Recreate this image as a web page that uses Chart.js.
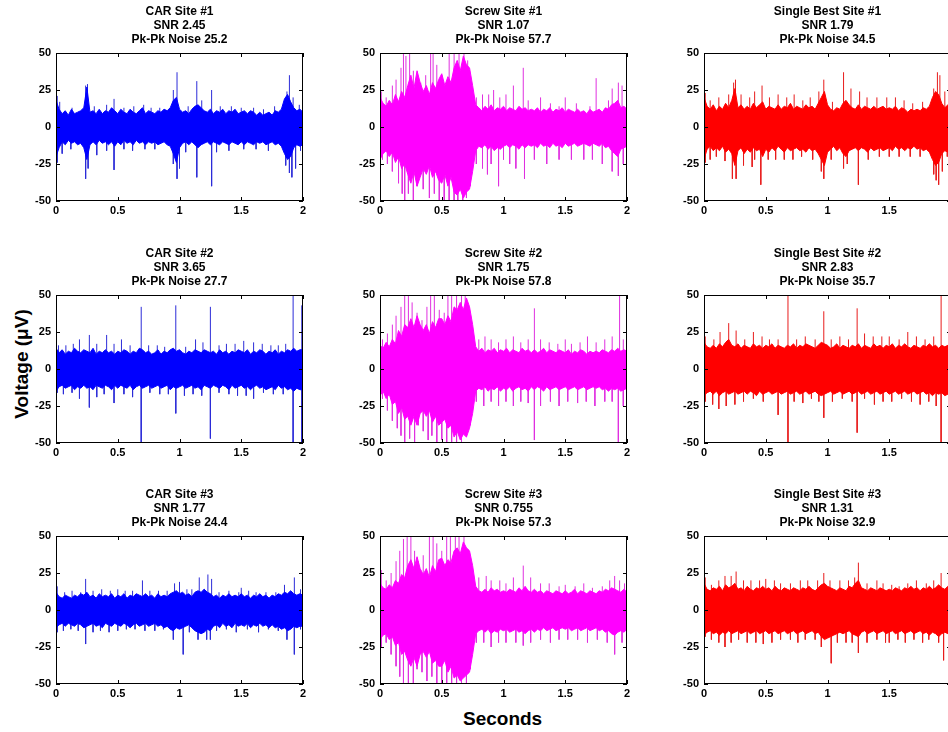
<!DOCTYPE html>
<html>
<head>
<meta charset="utf-8">
<script src="https://cdn.jsdelivr.net/npm/chart.js@4.4.1/dist/chart.umd.min.js"></script>
<style>
body { margin: 0; background: #fff; width: 948px; height: 732px; overflow: hidden; position: relative; font-family: "Liberation Sans", Arial, sans-serif; }
canvas.panel { position: absolute; }
.axlabel { position: absolute; font-weight: bold; font-size: 19px; color: #000; white-space: nowrap; }
</style>
</head>
<body>
<div class="axlabel" id="xlab" style="left:463px; top:708px;">Seconds</div>
<div class="axlabel" id="ylab" style="left:22px; top:364px; transform: translate(-50%,-50%) rotate(-90deg);">Voltage (μV)</div>
<script>
// sample times of the band readings (s), every 0.025 s
const times = [0,0.025,0.05,0.075,0.1,0.125,0.15,0.175,0.2,0.225,
    0.25,0.275,0.3,0.325,0.35,0.375,0.4,0.425,0.45,0.475,
    0.5,0.525,0.55,0.575,0.6,0.625,0.65,0.675,0.7,0.725,
    0.75,0.775,0.8,0.825,0.85,0.875,0.9,0.925,0.95,0.975,
    1,1.025,1.05,1.075,1.1,1.125,1.15,1.175,1.2,1.225,
    1.25,1.275,1.3,1.325,1.35,1.375,1.4,1.425,1.45,1.475,
    1.5,1.525,1.55,1.575,1.6,1.625,1.65,1.675,1.7,1.725,
    1.75,1.775,1.8,1.825,1.85,1.875,1.9,1.925,1.95,1.975,
    2];
const xTicks = [0, 0.5, 1, 1.5, 2];
const yTicks = [-50, -25, 0, 25, 50];

// dense band: upper / lower edge (µV) at each time above; single spikes [t, µV]
const car1Hi = [18,12,9,11,8,12,9,10,11,13, 27,10,11,9,12,9,11,10,13,11, 9,12,10,9,12,10,9,11,13,9,
    11,10,9,11,10,12,11,13,18,20, 12,10,11,9,12,14,15,13,11,10, 12,9,11,10,12,9,11,10,12,9,
    10,11,9,11,10,8,10,8,9,10, 8,11,10,12,19,22,17,13,11,12, 10];
const car1Lo = [-20,-14,-10,-12,-9,-11,-10,-12,-11,-14, -22,-12,-10,-12,-9,-11,-10,-12,-10,-13, -10,-12,-9,-11,-10,-12,-9,-11,-10,-12,
    -10,-11,-10,-12,-11,-10,-12,-13,-18,-24, -14,-11,-10,-12,-10,-12,-14,-12,-11,-10, -12,-10,-11,-12,-10,-11,-12,-10,-11,-12,
    -10,-12,-10,-11,-12,-10,-11,-10,-12,-11, -10,-12,-11,-13,-18,-22,-20,-14,-12,-13, -12];
const car1Spikes = [[0.01,21],[0.03,17],[0.13,13],[0.24,28],[0.255,29],[0.31,14],[0.41,15],[0.47,19],[0.55,13],[0.63,14],[0.71,15],[0.77,13],[0.84,13],[0.95,25],[0.98,37],[1.07,14],[1.14,31],[1.18,18],[1.26,25],[1.33,14],[1.42,14],[1.5,13],[1.6,13],[1.68,12],[1.77,14],[1.87,24],[1.89,35],[1.92,20],[1.97,15],
    [0.01,-24],[0.05,-18],[0.12,-15],[0.24,-35],[0.26,-28],[0.33,-19],[0.41,-16],[0.47,-29],[0.55,-15],[0.62,-16],[0.72,-15],[0.8,-15],[0.95,-25],[0.98,-35],[1.0,-28],[1.05,-17],[1.14,-34],[1.26,-40],[1.3,-17],[1.4,-16],[1.52,-15],[1.62,-15],[1.72,-16],[1.86,-26],[1.89,-31],[1.91,-34],[1.94,-28],[1.98,-16]];

const screw1Hi = [20,16,14,18,15,22,17,24,20,28, 35,26,38,30,24,28,22,30,26,32, 36,28,34,30,40,45,38,48,42,40,
    28,15,13,11,14,12,15,11,13,12, 14,11,13,12,11,14,12,13,11,12, 11,13,10,12,11,13,10,12,11,13,
    10,12,11,10,12,10,11,9,12,10, 11,12,10,13,12,15,16,18,13,14, 12];
const screw1Lo = [-22,-18,-16,-20,-17,-24,-20,-28,-25,-32, -38,-30,-40,-34,-28,-32,-26,-34,-30,-36, -38,-32,-40,-34,-44,-46,-42,-48,-44,-42,
    -30,-16,-13,-14,-12,-15,-13,-16,-14,-15, -13,-12,-14,-12,-13,-15,-12,-14,-12,-13, -12,-14,-11,-13,-12,-14,-11,-13,-12,-14,
    -11,-13,-12,-11,-13,-12,-11,-12,-13,-11, -12,-13,-11,-14,-13,-16,-18,-20,-15,-14, -13];
const screw1Spikes = [[0.01,24],[0.05,20],[0.1,28],[0.13,32],[0.17,40],[0.19,50],[0.21,48],[0.24,50],[0.27,38],[0.3,32],[0.33,30],[0.37,35],[0.41,50],[0.43,50],[0.46,42],[0.5,35],[0.56,50],[0.6,50],[0.64,50],[0.68,50],[0.71,45],[0.74,30],[0.78,20],[0.83,22],[0.88,22],[0.92,25],[0.97,20],[1.02,22],[1.08,28],[1.16,40],[1.2,18],[1.3,20],[1.38,16],[1.45,14],[1.5,20],[1.59,16],[1.7,14],[1.75,33],[1.85,18],[1.88,26],[1.93,30],[1.96,28],[2.0,18],
    [0.02,-22],[0.06,-25],[0.1,-30],[0.15,-38],[0.18,-45],[0.2,-50],[0.23,-45],[0.27,-50],[0.3,-40],[0.35,-42],[0.4,-48],[0.44,-45],[0.48,-50],[0.52,-50],[0.56,-50],[0.6,-50],[0.63,-50],[0.67,-50],[0.7,-48],[0.73,-40],[0.78,-25],[0.83,-28],[0.87,-32],[0.9,-25],[0.96,-40],[1.0,-22],[1.05,-25],[1.1,-28],[1.17,-35],[1.25,-22],[1.35,-25],[1.45,-22],[1.55,-22],[1.65,-22],[1.72,-22],[1.8,-25],[1.88,-30],[1.93,-33],[1.97,-25]];

const best1Hi = [20,14,12,15,11,14,12,16,13,18, 26,13,15,12,14,12,16,13,15,17, 12,14,13,12,15,12,14,13,16,12,
    14,13,12,15,13,14,12,16,20,24, 15,12,11,13,12,16,18,15,13,12, 15,12,14,13,12,14,12,13,14,12,
    13,12,14,11,13,12,10,12,11,12, 11,13,12,14,20,24,22,16,13,15, 14];
const best1Lo = [-22,-15,-13,-16,-14,-16,-13,-17,-15,-18, -26,-16,-14,-18,-15,-17,-14,-16,-15,-20, -15,-17,-14,-16,-13,-15,-17,-14,-16,-15,
    -14,-16,-15,-17,-14,-16,-15,-18,-22,-26, -17,-15,-13,-16,-14,-18,-20,-16,-15,-14, -16,-14,-15,-17,-14,-16,-15,-14,-16,-15,
    -14,-16,-13,-15,-14,-16,-14,-15,-13,-15, -14,-16,-15,-17,-22,-26,-24,-18,-16,-17, -15];
const best1Spikes = [[0.01,23],[0.05,18],[0.12,20],[0.2,22],[0.24,30],[0.255,32],[0.3,22],[0.37,20],[0.41,24],[0.47,28],[0.53,20],[0.6,22],[0.67,20],[0.73,22],[0.8,18],[0.86,20],[0.93,24],[0.97,32],[1.04,17],[1.13,37],[1.19,26],[1.26,24],[1.32,20],[1.4,20],[1.48,20],[1.55,20],[1.62,18],[1.69,16],[1.77,17],[1.86,26],[1.89,37],[1.91,35],[1.95,24],[1.99,20],
    [0.01,-24],[0.05,-22],[0.1,-20],[0.17,-23],[0.23,-35],[0.26,-35],[0.32,-26],[0.39,-27],[0.41,-22],[0.46,-39],[0.52,-22],[0.58,-22],[0.65,-22],[0.72,-22],[0.79,-20],[0.88,-22],[0.95,-30],[0.97,-35],[1.03,-22],[1.13,-28],[1.16,-25],[1.25,-39],[1.33,-22],[1.42,-20],[1.5,-20],[1.58,-20],[1.67,-20],[1.75,-20],[1.86,-32],[1.88,-36],[1.9,-39],[1.93,-30],[1.97,-20]];

const car2Hi = [14,11,13,10,12,11,14,12,11,13, 12,11,14,10,12,11,13,11,12,10, 12,11,13,12,10,12,11,14,13,11,
    12,10,11,13,10,12,11,13,14,12, 13,11,10,12,11,13,12,11,13,12, 11,12,10,13,11,12,10,12,11,13,
    12,11,13,10,12,11,13,12,10,12, 11,13,10,12,11,13,12,14,12,13, 13];
const car2Lo = [-15,-12,-11,-13,-12,-11,-14,-12,-13,-11, -13,-12,-14,-11,-12,-13,-11,-12,-14,-11, -13,-11,-12,-13,-11,-14,-12,-11,-13,-12,
    -11,-13,-12,-11,-13,-12,-11,-14,-12,-13, -12,-11,-13,-12,-11,-13,-12,-14,-11,-12, -13,-11,-12,-13,-11,-12,-14,-11,-13,-12,
    -11,-13,-12,-14,-12,-11,-13,-12,-14,-13, -12,-14,-11,-13,-12,-14,-13,-15,-13,-14, -14];
const car2Spikes = [[0.02,16],[0.08,16],[0.14,17],[0.19,20],[0.27,23],[0.33,17],[0.41,23],[0.47,17],[0.53,20],[0.6,16],[0.69,42],[0.75,16],[0.82,16],[0.88,15],[0.97,43],[1.05,15],[1.13,20],[1.19,18],[1.25,42],[1.32,16],[1.38,17],[1.45,17],[1.52,19],[1.6,18],[1.67,17],[1.74,16],[1.8,16],[1.86,17],[1.92,50],[1.99,43],
    [0.01,-16],[0.06,-17],[0.13,-16],[0.19,-20],[0.27,-26],[0.33,-19],[0.39,-17],[0.47,-23],[0.55,-17],[0.62,-19],[0.69,-50],[0.76,-16],[0.84,-17],[0.91,-17],[0.97,-30],[1.04,-18],[1.11,-17],[1.18,-18],[1.25,-47],[1.32,-16],[1.4,-17],[1.47,-18],[1.54,-18],[1.6,-20],[1.68,-16],[1.76,-17],[1.84,-17],[1.92,-50],[1.99,-50]];

const screw2Hi = [16,14,18,15,20,17,26,22,30,28, 34,28,36,30,26,30,24,32,28,34, 34,30,36,32,42,40,45,40,48,42,
    30,15,12,14,11,13,12,14,11,13, 12,14,11,13,12,11,14,12,13,11, 13,11,12,14,11,13,12,11,13,12,
    11,13,10,12,11,13,12,10,12,11, 12,11,13,12,11,13,12,14,12,13, 12];
const screw2Lo = [-18,-15,-20,-17,-24,-22,-30,-26,-34,-32, -38,-32,-38,-30,-28,-32,-28,-36,-32,-38, -36,-34,-40,-38,-46,-42,-48,-44,-46,-40,
    -30,-15,-13,-14,-12,-15,-13,-14,-12,-15, -13,-14,-12,-15,-13,-12,-14,-13,-15,-12, -14,-12,-13,-15,-12,-14,-13,-12,-14,-13,
    -12,-14,-13,-12,-14,-13,-12,-14,-13,-12, -13,-12,-14,-13,-15,-13,-14,-13,-15,-14, -13];
const screw2Spikes = [[0.02,20],[0.06,24],[0.1,30],[0.13,36],[0.17,42],[0.2,50],[0.23,50],[0.26,45],[0.3,38],[0.34,33],[0.38,42],[0.41,50],[0.44,50],[0.48,40],[0.52,38],[0.55,50],[0.58,50],[0.62,50],[0.66,50],[0.69,50],[0.72,38],[0.75,25],[0.8,20],[0.85,22],[0.9,20],[0.96,18],[1.02,20],[1.08,22],[1.14,18],[1.2,20],[1.25,41],[1.3,20],[1.37,18],[1.44,17],[1.5,20],[1.55,17],[1.62,18],[1.68,22],[1.75,18],[1.82,20],[1.88,22],[1.94,50],[1.97,20],
    [0.02,-20],[0.06,-28],[0.1,-35],[0.14,-40],[0.17,-45],[0.2,-50],[0.24,-47],[0.28,-50],[0.31,-38],[0.35,-42],[0.39,-48],[0.42,-45],[0.46,-50],[0.5,-48],[0.54,-50],[0.58,-50],[0.62,-50],[0.66,-50],[0.7,-45],[0.73,-38],[0.78,-22],[0.84,-25],[0.9,-22],[0.96,-25],[1.02,-22],[1.08,-25],[1.14,-22],[1.2,-23],[1.25,-48],[1.3,-25],[1.38,-22],[1.45,-25],[1.52,-22],[1.6,-23],[1.67,-22],[1.74,-25],[1.82,-22],[1.88,-22],[1.93,-50],[1.97,-25]];

const best2Hi = [18,15,14,16,14,17,15,18,20,16, 15,17,14,16,15,14,17,15,16,14, 16,15,17,14,16,15,14,16,15,17,
    14,16,15,17,16,15,14,16,18,17, 16,14,15,17,14,16,15,14,16,15, 17,14,16,15,14,17,15,16,14,16,
    15,17,14,16,15,17,15,14,16,15, 14,16,15,17,15,16,14,16,15,16, 15];
const best2Lo = [-18,-16,-15,-17,-15,-18,-16,-15,-17,-16, -15,-17,-16,-15,-17,-15,-16,-18,-15,-17, -16,-15,-17,-16,-15,-17,-16,-15,-17,-16,
    -15,-17,-16,-15,-17,-16,-15,-17,-18,-17, -16,-15,-17,-16,-15,-17,-16,-15,-17,-16, -15,-17,-16,-15,-17,-16,-15,-17,-16,-15,
    -17,-16,-15,-17,-16,-15,-17,-16,-15,-17, -16,-15,-17,-16,-18,-16,-17,-16,-18,-17, -16];
const best2Spikes = [[0.01,22],[0.08,20],[0.13,25],[0.2,31],[0.26,26],[0.33,20],[0.4,25],[0.47,22],[0.53,20],[0.6,20],[0.68,50],[0.75,20],[0.82,22],[0.9,20],[0.97,39],[1.03,20],[1.1,22],[1.17,20],[1.24,41],[1.3,24],[1.37,22],[1.44,22],[1.5,22],[1.58,20],[1.65,25],[1.72,22],[1.79,20],[1.86,22],[1.92,50],[1.98,20],
    [0.01,-22],[0.07,-24],[0.12,-27],[0.18,-25],[0.25,-24],[0.32,-22],[0.4,-20],[0.48,-22],[0.6,-31],[0.68,-50],[0.73,-22],[0.8,-23],[0.87,-20],[0.93,-22],[0.97,-33],[1.04,-22],[1.12,-20],[1.2,-22],[1.24,-43],[1.3,-20],[1.38,-24],[1.45,-22],[1.52,-22],[1.6,-20],[1.68,-22],[1.75,-24],[1.82,-22],[1.88,-25],[1.92,-50],[1.98,-22]];

const car3Hi = [12,9,8,10,9,8,10,9,11,10, 12,9,10,8,11,9,10,9,11,8, 10,9,11,8,10,9,11,10,9,11,
    9,10,8,11,9,10,9,11,12,13, 11,12,10,11,9,12,13,12,14,12, 11,9,10,8,10,9,11,9,10,9,
    11,9,10,8,10,9,11,9,10,8, 10,9,11,10,12,11,13,11,10,11, 10];
const car3Lo = [-12,-10,-9,-11,-9,-10,-11,-9,-10,-12, -11,-10,-9,-11,-10,-12,-9,-10,-11,-9, -10,-11,-9,-10,-12,-10,-9,-11,-10,-9,
    -11,-10,-9,-11,-10,-12,-11,-13,-14,-12, -13,-12,-11,-10,-12,-14,-15,-16,-15,-13, -14,-11,-10,-12,-9,-11,-10,-12,-9,-11,
    -10,-11,-9,-12,-10,-11,-9,-11,-10,-12, -10,-12,-11,-13,-12,-14,-13,-11,-12,-11, -11];
const car3Spikes = [[0.01,16],[0.07,12],[0.13,13],[0.2,12],[0.24,21],[0.3,13],[0.37,14],[0.44,13],[0.5,14],[0.56,13],[0.62,13],[0.7,20],[0.76,13],[0.83,13],[0.9,13],[0.96,18],[1.0,19],[1.06,14],[1.1,14],[1.16,22],[1.2,14],[1.23,24],[1.26,21],[1.32,12],[1.4,13],[1.48,12],[1.5,15],[1.56,13],[1.62,12],[1.7,12],[1.78,12],[1.85,17],[1.93,22],[1.98,14],
    [0.01,-15],[0.06,-14],[0.12,-13],[0.18,-14],[0.24,-23],[0.3,-15],[0.36,-14],[0.43,-15],[0.5,-14],[0.57,-13],[0.64,-13],[0.72,-14],[0.8,-14],[0.87,-13],[0.95,-20],[1.03,-30],[1.08,-15],[1.15,-20],[1.22,-20],[1.25,-20],[1.3,-14],[1.38,-13],[1.46,-15],[1.55,-13],[1.64,-15],[1.72,-13],[1.8,-14],[1.87,-20],[1.93,-30],[1.98,-13]];

const screw3Hi = [18,15,14,17,15,20,18,24,22,30, 34,28,36,28,24,28,22,30,26,34, 35,30,34,32,40,42,38,46,42,40,
    30,16,13,12,14,12,15,13,14,12, 13,12,14,13,12,15,13,16,13,12, 14,12,13,11,13,12,11,13,12,11,
    13,11,12,14,11,13,12,11,13,12, 11,13,12,14,13,15,14,13,12,14, 12];
const screw3Lo = [-20,-17,-16,-20,-18,-24,-22,-30,-28,-34, -38,-32,-38,-30,-28,-32,-28,-36,-34,-38, -38,-34,-42,-38,-46,-44,-48,-46,-44,-42,
    -30,-16,-14,-13,-15,-13,-16,-14,-15,-13, -14,-13,-15,-14,-13,-15,-14,-16,-14,-13, -15,-13,-14,-12,-14,-13,-12,-14,-13,-12,
    -13,-12,-14,-13,-12,-14,-13,-12,-14,-13, -12,-14,-13,-15,-14,-16,-17,-15,-14,-15, -13];
const screw3Spikes = [[0.01,27],[0.05,20],[0.09,25],[0.13,33],[0.16,40],[0.19,48],[0.22,50],[0.25,50],[0.28,40],[0.31,33],[0.35,37],[0.4,50],[0.43,50],[0.46,45],[0.5,40],[0.54,50],[0.57,50],[0.61,50],[0.64,50],[0.68,50],[0.71,40],[0.74,28],[0.8,22],[0.86,23],[0.9,20],[0.97,20],[1.02,18],[1.08,22],[1.16,30],[1.22,22],[1.3,18],[1.37,18],[1.45,16],[1.5,17],[1.58,16],[1.65,18],[1.72,15],[1.8,16],[1.86,20],[1.9,23],[1.94,20],[1.98,18],
    [0.01,-25],[0.05,-22],[0.09,-30],[0.13,-38],[0.16,-45],[0.19,-50],[0.23,-50],[0.27,-50],[0.3,-40],[0.34,-42],[0.38,-48],[0.42,-45],[0.46,-50],[0.5,-50],[0.54,-50],[0.58,-50],[0.62,-50],[0.66,-50],[0.7,-50],[0.73,-40],[0.78,-22],[0.84,-22],[0.9,-25],[0.96,-22],[1.02,-22],[1.1,-22],[1.16,-24],[1.22,-22],[1.3,-20],[1.38,-22],[1.45,-20],[1.52,-20],[1.6,-20],[1.68,-22],[1.76,-20],[1.84,-22],[1.9,-30],[1.96,-22]];

const best3Hi = [18,14,13,15,14,16,13,17,15,16, 18,14,15,13,16,14,13,15,14,16, 14,15,13,16,14,13,15,14,13,15,
    14,13,15,14,16,14,13,15,17,18, 16,15,14,13,15,14,13,16,15,18, 20,15,14,13,15,14,13,15,14,13,
    14,13,15,14,13,15,14,16,14,15, 13,15,14,16,14,15,17,15,14,16, 14];
const best3Lo = [-17,-15,-14,-16,-15,-17,-15,-16,-14,-16, -15,-14,-16,-15,-14,-16,-15,-14,-16,-15, -14,-16,-15,-14,-16,-15,-14,-16,-15,-14,
    -16,-15,-14,-16,-15,-14,-16,-15,-18,-20, -19,-18,-17,-16,-15,-16,-15,-14,-16,-17, -18,-15,-14,-16,-15,-14,-16,-15,-14,-16,
    -15,-14,-16,-15,-14,-16,-15,-14,-16,-15, -14,-16,-15,-17,-15,-16,-18,-16,-15,-16, -15];
const best3Spikes = [[0.01,22],[0.06,17],[0.12,20],[0.17,23],[0.22,23],[0.26,26],[0.32,20],[0.38,20],[0.45,20],[0.5,21],[0.57,20],[0.62,18],[0.7,18],[0.78,20],[0.84,20],[0.92,20],[0.97,25],[1.02,20],[1.1,20],[1.17,20],[1.22,22],[1.25,32],[1.32,18],[1.4,20],[1.45,18],[1.52,17],[1.58,16],[1.65,18],[1.72,20],[1.8,18],[1.86,20],[1.92,25],[1.98,20],
    [0.01,-18],[0.06,-20],[0.12,-22],[0.17,-25],[0.22,-22],[0.28,-20],[0.35,-22],[0.42,-22],[0.48,-23],[0.55,-22],[0.62,-20],[0.7,-20],[0.76,-22],[0.82,-20],[0.9,-20],[0.95,-25],[1.03,-36],[1.08,-22],[1.15,-22],[1.2,-22],[1.25,-29],[1.32,-22],[1.4,-20],[1.47,-22],[1.5,-22],[1.57,-20],[1.63,-22],[1.7,-20],[1.77,-22],[1.82,-20],[1.9,-22],[1.94,-34],[1.98,-22]];

const COLORS = { car: '#0000ff', screw: '#ff00ff', best: '#ff0000' };
const THIN = { car: '#2c2cd8', screw: '#e030e0', best: '#e81c1c' };

// panel list: title lines, data, colours, plot-area origin on the page
const panels = [
    { title: ['CAR Site #1', 'SNR 2.45', 'Pk-Pk Noise 25.2'], hi: car1Hi, lo: car1Lo, spikes: car1Spikes, kind: 'car', left: 56, top: 53 },
    { title: ['Screw Site #1', 'SNR 1.07', 'Pk-Pk Noise 57.7'], hi: screw1Hi, lo: screw1Lo, spikes: screw1Spikes, kind: 'screw', left: 380, top: 53 },
    { title: ['Single Best Site #1', 'SNR 1.79', 'Pk-Pk Noise 34.5'], hi: best1Hi, lo: best1Lo, spikes: best1Spikes, kind: 'best', left: 704, top: 53 },
    { title: ['CAR Site #2', 'SNR 3.65', 'Pk-Pk Noise 27.7'], hi: car2Hi, lo: car2Lo, spikes: car2Spikes, kind: 'car', left: 56, top: 295 },
    { title: ['Screw Site #2', 'SNR 1.75', 'Pk-Pk Noise 57.8'], hi: screw2Hi, lo: screw2Lo, spikes: screw2Spikes, kind: 'screw', left: 380, top: 295 },
    { title: ['Single Best Site #2', 'SNR 2.83', 'Pk-Pk Noise 35.7'], hi: best2Hi, lo: best2Lo, spikes: best2Spikes, kind: 'best', left: 704, top: 295 },
    { title: ['CAR Site #3', 'SNR 1.77', 'Pk-Pk Noise 24.4'], hi: car3Hi, lo: car3Lo, spikes: car3Spikes, kind: 'car', left: 56, top: 536 },
    { title: ['Screw Site #3', 'SNR 0.755', 'Pk-Pk Noise 57.3'], hi: screw3Hi, lo: screw3Lo, spikes: screw3Spikes, kind: 'screw', left: 380, top: 536 },
    { title: ['Single Best Site #3', 'SNR 1.31', 'Pk-Pk Noise 32.9'], hi: best3Hi, lo: best3Lo, spikes: best3Spikes, kind: 'best', left: 704, top: 536 }
];

const PAD_L = 56, PAD_T = 53, PAD_R = 14, PAD_B = 17, PLOT_W = 247, PLOT_H = 148;

// MATLAB-style box with inward ticks + 3-line title
const boxPlugin = {
    id: 'box',
    afterDraw(chart, args, opts) {
        const { ctx, chartArea: a, scales: { x, y } } = chart;
        ctx.save();
        ctx.strokeStyle = '#000';
        ctx.lineWidth = 1;
        ctx.strokeRect(a.left + 0.5, a.top + 0.5, a.right - a.left - 1, a.bottom - a.top - 1);
        ctx.beginPath();
        xTicks.forEach(v => {
            const px = Math.round(x.getPixelForValue(v)) + 0.5;
            ctx.moveTo(px, a.bottom); ctx.lineTo(px, a.bottom - 4);
            ctx.moveTo(px, a.top); ctx.lineTo(px, a.top + 4);
        });
        yTicks.forEach(v => {
            const py = Math.round(y.getPixelForValue(v)) + 0.5;
            ctx.moveTo(a.left, py); ctx.lineTo(a.left + 4, py);
            ctx.moveTo(a.right, py); ctx.lineTo(a.right - 4, py);
        });
        ctx.stroke();
        ctx.fillStyle = '#000';
        ctx.font = 'bold 12px "Liberation Sans", Arial, sans-serif';
        ctx.textAlign = 'center';
        ctx.textBaseline = 'middle';
        const cx = (a.left + a.right) / 2;
        opts.lines.forEach((s, i) => ctx.fillText(s, cx, a.top - 41 + i * 14));
        ctx.restore();
    }
};

function spikeData(spikes) {
    const out = [];
    spikes.forEach(([t, v]) => {
        out.push({ x: t, y: 0 }, { x: t, y: v }, { x: t, y: null });
    });
    return out;
}

const tickFont = { family: '"Liberation Sans", Arial, sans-serif', size: 11, weight: 'bold' };

panels.forEach(p => {
    const cv = document.createElement('canvas');
    cv.className = 'panel';
    cv.width = PAD_L + PLOT_W + PAD_R;
    cv.height = PAD_T + PLOT_H + PAD_B;
    cv.style.left = (p.left - PAD_L) + 'px';
    cv.style.top = (p.top - PAD_T) + 'px';
    document.body.appendChild(cv);

    const col = COLORS[p.kind];
    new Chart(cv.getContext('2d'), {
        type: 'line',
        data: {
            datasets: [
                { data: times.map((t, k) => ({ x: t, y: p.hi[k] })), borderColor: col, backgroundColor: col, borderWidth: 1, pointRadius: 0, fill: '+1', tension: 0 },
                { data: times.map((t, k) => ({ x: t, y: p.lo[k] })), borderColor: col, borderWidth: 1, pointRadius: 0, fill: false, tension: 0 },
                { data: spikeData(p.spikes), borderColor: THIN[p.kind], borderWidth: 1, pointRadius: 0, fill: false, spanGaps: false }
            ]
        },
        options: {
            responsive: false, animation: false, devicePixelRatio: 1, events: [],
            layout: { padding: { left: 0, top: PAD_T, right: PAD_R, bottom: 0 } },
            plugins: { legend: { display: false }, tooltip: { enabled: false }, box: { lines: p.title } },
            scales: {
                x: {
                    type: 'linear', min: 0, max: 2,
                    afterBuildTicks: s => { s.ticks = xTicks.map(v => ({ value: v })); },
                    afterFit: s => { s.height = PAD_B; },
                    grid: { display: false, drawTicks: false, tickLength: 0 }, border: { display: false },
                    ticks: { color: '#000', padding: 3, maxRotation: 0, autoSkip: false, font: tickFont, callback: v => String(v) }
                },
                y: {
                    min: -50, max: 50,
                    afterBuildTicks: s => { s.ticks = yTicks.map(v => ({ value: v })); },
                    afterFit: s => { s.width = PAD_L; },
                    grid: { display: false, drawTicks: false, tickLength: 0 }, border: { display: false },
                    ticks: { color: '#000', padding: 5, autoSkip: false, font: tickFont, callback: v => String(v) }
                }
            }
        },
        plugins: [boxPlugin]
    });
});
</script>
</body>
</html>
